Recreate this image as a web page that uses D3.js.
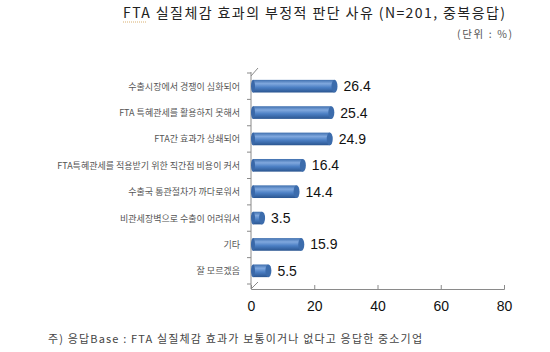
<!DOCTYPE html>
<html>
<head>
<meta charset="utf-8">
<script src="https://cdn.jsdelivr.net/npm/d3@7"></script>
<style>
  body { margin: 0; background: #fff; }
  svg { display: block; font-family: "Noto Sans CJK KR", "Noto Sans", sans-serif; }
</style>
</head>
<body>
<div class="chart"></div>
<script>
// data
const categories = [
    "수출시장에서 경쟁이 심화되어",
    "FTA 특혜관세를 활용하지 못해서",
    "FTA간 효과가 상쇄되어",
    "FTA특혜관세를 적용받기 위한 직간접 비용이 커서",
    "수출국 통관절차가 까다로워서",
    "비관세장벽으로 수출이 어려워서",
    "기타",
    "잘 모르겠음"
];
const values = [26.4, 25.4, 24.9, 16.4, 14.4, 3.5, 15.9, 5.5];
const xTicks = [0, 20, 40, 60, 80];

const title = "FTA 실질체감 효과의 부정적 판단 사유 (N=201, 중복응답)";
const unitText = "(단위 : %)";
const note = "주) 응답Base : FTA 실질체감 효과가 보통이거나 없다고 응답한 중소기업";

const width = 550, height = 352;
const svg = d3.select('.chart').append('svg')
    .attr('width', width)
    .attr('height', height);

// gradient for the cylinder-like bars
const defs = svg.append('defs');
const grad = defs.append('linearGradient')
    .attr('id', 'barGrad')
    .attr('x1', 0).attr('y1', 0).attr('x2', 0).attr('y2', 1);
grad.append('stop').attr('offset', '0%').attr('stop-color', '#3f6fae');
grad.append('stop').attr('offset', '30%').attr('stop-color', '#80a8de');
grad.append('stop').attr('offset', '60%').attr('stop-color', '#4b7fc4');
grad.append('stop').attr('offset', '100%').attr('stop-color', '#2a5590');

const x = d3.scaleLinear()
    .domain([0, 80])
    .range([251, 504]);
const y = d3.scaleBand()
    .domain(categories)
    .range([73, 284])
    .paddingInner(0.52)
    .paddingOuter(0.26);

const axisY = 289;

// titles
svg.append('text')
    .attr('x', 123).attr('y', 18)
    .attr('font-size', 14)
    .attr('fill', '#222')
    .attr('textLength', 382)
    .attr('lengthAdjust', 'spacing')
    .text(title);
svg.append('line')
    .attr('x1', 123).attr('x2', 146)
    .attr('y1', 22).attr('y2', 22)
    .attr('stroke', '#d8b070')
    .attr('stroke-dasharray', '1,1');
svg.append('text')
    .attr('x', 457).attr('y', 38)
    .attr('font-size', 10.5)
    .attr('fill', '#555')
    .attr('textLength', 55)
    .attr('lengthAdjust', 'spacing')
    .text(unitText);

// vertical axis with a small depth hint
const g = svg.append('g');
g.append('line')
    .attr('x1', x(0)).attr('x2', x(0))
    .attr('y1', 72).attr('y2', axisY)
    .attr('stroke', '#8a8a8a');
g.append('line')
    .attr('x1', x(0)).attr('x2', x(0) + 7)
    .attr('y1', 76).attr('y2', 68)
    .attr('stroke', '#8a8a8a');
g.append('line')
    .attr('x1', x(0)).attr('x2', x(0) + 7)
    .attr('y1', axisY).attr('y2', axisY - 7)
    .attr('stroke', '#8a8a8a');
g.selectAll('.ytick')
    .data(d3.range(categories.length + 1))
    .enter().append('line')
    .attr('x1', x(0) - 4).attr('x2', x(0))
    .attr('y1', d => 73 + d * y.step())
    .attr('y2', d => 73 + d * y.step())
    .attr('stroke', '#8a8a8a');

// bottom axis
const xAxis = svg.append('g')
    .attr('transform', 'translate(0,' + axisY + ')')
    .call(d3.axisBottom(x).tickValues(xTicks).tickSize(-4).tickPadding(12));
xAxis.select('.domain').attr('stroke', '#8a8a8a');
xAxis.selectAll('.tick line').attr('stroke', '#8a8a8a');
xAxis.selectAll('.tick text')
    .attr('font-size', 14)
    .attr('fill', '#111')
    .attr('font-family', 'Liberation Sans, Arial, sans-serif');

// category labels
svg.selectAll('.cat')
    .data(categories)
    .enter().append('text')
    .attr('class', 'cat')
    .attr('x', 240)
    .attr('y', d => y(d) + y.bandwidth() / 2 + 3.5)
    .attr('text-anchor', 'end')
    .attr('font-size', 9)
    .attr('fill', '#555')
    .text(d => d);

// bars
const bars = svg.selectAll('.bar')
    .data(values)
    .enter().append('g')
    .attr('class', 'bar');
bars.append('rect')
    .attr('x', x(0) + 2)
    .attr('y', (d, i) => y(categories[i]))
    .attr('width', d => x(d) - x(0) - 2)
    .attr('height', y.bandwidth())
    .attr('fill', 'url(#barGrad)');
bars.append('ellipse')
    .attr('cx', d => x(d))
    .attr('cy', (d, i) => y(categories[i]) + y.bandwidth() / 2)
    .attr('rx', 3)
    .attr('ry', y.bandwidth() / 2)
    .attr('fill', '#3c6cac');
bars.append('ellipse')
    .attr('cx', x(0) + 2)
    .attr('cy', (d, i) => y(categories[i]) + y.bandwidth() / 2)
    .attr('rx', 2)
    .attr('ry', y.bandwidth() / 2)
    .attr('fill', '#3a68a8');

// value labels
svg.selectAll('.val')
    .data(values)
    .enter().append('text')
    .attr('class', 'val')
    .attr('x', d => x(d) + 9)
    .attr('y', (d, i) => y(categories[i]) + y.bandwidth() / 2 + 5)
    .attr('font-size', 14)
    .attr('fill', '#111')
    .attr('font-family', 'Liberation Sans, Arial, sans-serif')
    .text(d => d.toFixed(1));

// footnote
svg.append('text')
    .attr('x', 48).attr('y', 343)
    .attr('font-size', 11)
    .attr('fill', '#444')
    .attr('textLength', 374)
    .attr('lengthAdjust', 'spacing')
    .text(note);
</script>
</body>
</html>
